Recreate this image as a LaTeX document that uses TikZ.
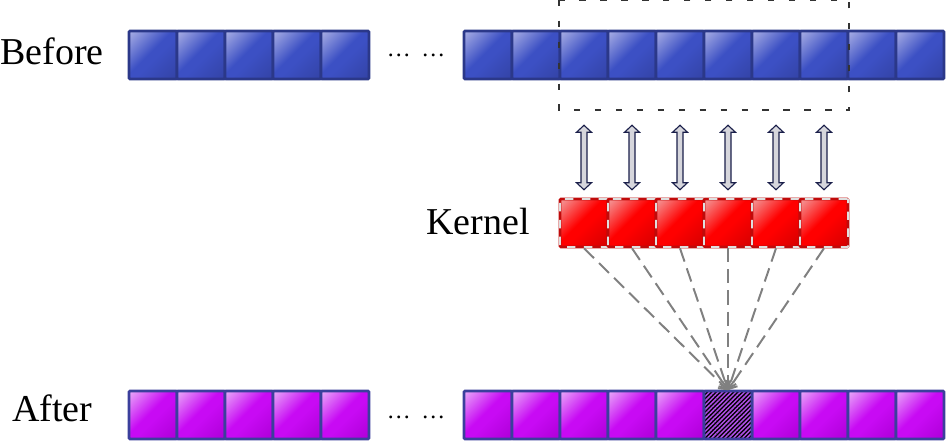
\documentclass[tikz,border=0pt]{standalone}
\usepackage{fontspec}
\setmainfont{Liberation Serif}
\usetikzlibrary{calc,positioning,arrows.meta,patterns.meta}
\definecolor{bluelight}{HTML}{A8AEE4}
\definecolor{bluemain}{HTML}{3C50C4}
\definecolor{bluedark}{HTML}{3444A8}
\definecolor{blueedge}{HTML}{2B3889}
\definecolor{redlight}{HTML}{F49A9A}
\definecolor{redmain}{HTML}{FF0000}
\definecolor{reddark}{HTML}{D80000}
\definecolor{rededge}{HTML}{C00A0A}
\definecolor{purplelight}{HTML}{E8A8F8}
\definecolor{purplemain}{HTML}{C80AF4}
\definecolor{purpledark}{HTML}{B000DA}
\definecolor{purpleedge}{HTML}{3B3F9C}
\definecolor{hatchcolor}{HTML}{B050E8}
\definecolor{arrowgray}{HTML}{D6D6DC}
\definecolor{arrowedge}{HTML}{1A1F4A}
\pgfdeclareverticalshading{blueshade}{100bp}{color(0bp)=(bluedark); color(18bp)=(bluedark);
	color(46bp)=(bluemain); color(54bp)=(bluemain); color(85bp)=(bluelight); color(100bp)=(bluelight)}
\pgfdeclareverticalshading{redshade}{100bp}{color(0bp)=(reddark); color(18bp)=(reddark);
	color(46bp)=(redmain); color(54bp)=(redmain); color(85bp)=(redlight); color(100bp)=(redlight)}
\pgfdeclareverticalshading{purpleshade}{100bp}{color(0bp)=(purpledark); color(18bp)=(purpledark);
	color(46bp)=(purplemain); color(54bp)=(purplemain); color(85bp)=(purplelight); color(100bp)=(purplelight)}
\tikzstyle{cell} = [minimum size=1.2cm, inner sep=0pt,
	line width=1.8pt, rounded corners=0.6pt]
\tikzstyle{bcell} = [cell, draw=blueedge, shading=blueshade, shading angle=45]
\tikzstyle{kcell} = [cell, draw=rededge, shading=redshade, shading angle=45,
	postaction={draw=gray!25, line width=1.4pt, dash pattern=on 6pt off 6pt}]
\tikzstyle{acell} = [cell, draw=purpleedge, shading=purpleshade, shading angle=45]
\tikzstyle{hatched} = [cell, draw=purpleedge, preaction={fill=black},
	pattern={Lines[angle=45, distance=2.2pt, line width=1.1pt]}, pattern color=hatchcolor]
\tikzstyle{lbl} = [font=\fontsize{27}{30}\selectfont, inner sep=0pt]
\tikzstyle{dots} = [font=\fontsize{17}{20}\selectfont, inner sep=0pt]
\tikzstyle{window} = [draw=black!80, line width=1.5pt, dash pattern=on 4.6pt off 10.3pt]
\tikzstyle{dblarr} = [draw=arrowedge, fill=arrowgray, line width=0.8pt, line join=miter]
\tikzstyle{conn} = [draw=gray, line width=1.4pt, dash pattern=on 10pt off 5pt,
	-{Straight Barb[length=5pt, width=8pt]}]
\newcommand{\dblarrow}[2]{\draw[dblarr] (#1) -- ++(7.5,-7) -- ++(-4.5,0)
	-- ($(#2)+(3,7)$) -- ++(4.5,0) -- (#2) -- ++(-7.5,7) -- ++(4.5,0)
	-- ($(#1)+(-3,-7)$) -- ++(-4.5,0) -- cycle}

\begin{document}
\begin{tikzpicture}[x=0.025cm, y=0.025cm]
	\useasboundingbox (0,0) rectangle (950,441);
	
	%before
	\foreach \i in {1,...,5}
		\node[bcell] (bl\i) at ({153+48*(\i-1)},386) {};
	\foreach \i in {1,...,10}
		\node[bcell] (br\i) at ({488+48*(\i-1)},386) {};
	\node[lbl, anchor=base west] (before) at (0,376) {Before};
	\node[dots, anchor=base] (bdots) at (416,384.5) {…\hspace{7.6pt}…};
	\draw[window] ($(br3.north west)+(0,30)$) rectangle ($(br8.south east)+(0,-30)$);
	
	%kernel
	\foreach \i [evaluate=\i as \j using int(\i+2)] in {1,...,6}
		\node[kcell] (k\i) at ($(br\j)+(0,-168)$) {};
	\node[lbl, anchor=base east] (kernel) at (530,206) {Kernel};
	\foreach \i [evaluate=\i as \j using int(\i+2)] in {1,...,6}{
		\coordinate (t\i) at ($(br\j.south)+(0,-45)$);
		\coordinate (m\i) at ($(k\i.north)+(0,8)$);
		\dblarrow{t\i}{m\i};
	}
	
	%after
	\foreach \i in {1,...,5}
		\node[acell] (al\i) at ($(bl\i)+(0,-360)$) {};
	\foreach \i in {1,...,5,7,8,9,10}
		\node[acell] (ar\i) at ($(br\i)+(0,-360)$) {};
	\node[hatched] (ar6) at ($(br6)+(0,-360)$) {};
	\node[lbl, anchor=base west] (after) at (12,19) {After};
	\node[dots, anchor=base] (adots) at (416,22.5) {…\hspace{7.6pt}…};
	
	\foreach \i in {1,...,6}
		\draw[conn] (k\i.south) -- (ar6.north);
\end{tikzpicture}
\end{document}
